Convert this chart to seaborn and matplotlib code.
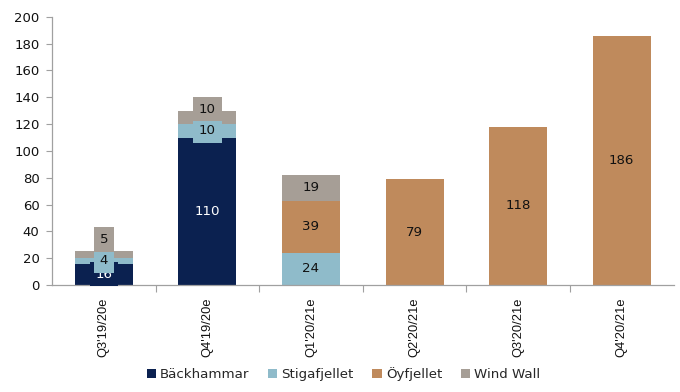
import matplotlib
matplotlib.use("Agg")
import matplotlib.pyplot as plt
import seaborn as sns
import numpy as np
import pandas as pd

quarters = ["Q3'19/20e", "Q4'19/20e", "Q1'20/21e", "Q2'20/21e", "Q3'20/21e", "Q4'20/21e"]
series_names = ["Bäckhammar", "Stigafjellet", "Öyfjellet", "Wind Wall"]
backhammar = [16, 110, 0, 0, 0, 0]
stigafjellet = [4, 10, 24, 0, 0, 0]
oyfjellet = [0, 0, 39, 79, 118, 186]
wind_wall = [5, 10, 19, 0, 0, 0]
y_ticks = [0, 20, 40, 60, 80, 100, 120, 140, 160, 180, 200]

colors = ["#0B2150", "#8FBBCA", "#BF8A5C", "#A69E96"]
text_colors = ["white", "#111111", "#111111", "#111111"]

sns.set_theme(style="white")
plt.rcParams["font.family"] = ["DejaVu Sans"]

fig = plt.figure(figsize=(6.8, 3.92), dpi=100)
ax = fig.add_axes([0.0765, 0.273, 0.914, 0.684])

values = [backhammar, stigafjellet, oyfjellet, wind_wall]
bottom = np.zeros(len(quarters))
label_pos = [[] for _ in quarters]
for name, vals, col, tcol in zip(series_names, values, colors, text_colors):
    vals = np.array(vals, dtype=float)
    df = pd.DataFrame({"quarter": quarters, "value": vals})
    sns.barplot(data=df, x="quarter", y="value", bottom=bottom, color=col,
                width=0.56, saturation=1, ax=ax, label=name, linewidth=0)
    for i, v in enumerate(vals):
        if v > 0:
            label_pos[i].append([bottom[i] + v / 2, int(v), col, tcol])
    bottom = bottom + vals

# the top label of a crowded stack is lifted above the one beneath it
for i, labels in enumerate(label_pos):
    if len(labels) > 1:
        top, below = labels[-1], labels[-2]
        if top[0] - below[0] < 12:
            top[0] = below[0] + 16
    for y, v, col, tcol in labels:
        ax.text(i, y, str(v), ha="center", va="center", fontsize=9.6, color=tcol,
                bbox=dict(boxstyle="square,pad=0.42", facecolor=col, edgecolor="none"))

ax.set_ylim(0, 200)
ax.set_xlim(-0.5, len(quarters) - 0.5)
ax.set_yticks(y_ticks)
ax.set_yticklabels([str(t) for t in y_ticks], fontsize=9.5, color="#111111")
ax.set_xlabel("")
ax.set_ylabel("")
ax.set_xticks(range(len(quarters)))
ax.set_xticklabels(quarters, rotation=90, fontsize=9.3, color="#111111",
                   family=["Liberation Sans", "DejaVu Sans"])
ax.set_xticks(np.arange(0.5, len(quarters) - 0.5, 1), minor=True)
ax.tick_params(axis="x", which="major", length=0, pad=9)
ax.tick_params(axis="x", which="minor", length=5, color="#A0A0A0", width=0.8, bottom=True)
ax.tick_params(axis="y", which="major", length=4, color="#A0A0A0", width=0.8, left=True, pad=5)

for side in ["top", "right"]:
    ax.spines[side].set_visible(False)
for side in ["left", "bottom"]:
    ax.spines[side].set_color("#A0A0A0")
    ax.spines[side].set_linewidth(0.9)

handles, labels = ax.get_legend_handles_labels()
if ax.get_legend() is not None:
    ax.get_legend().remove()
fig.legend(handles, labels, loc="center", bbox_to_anchor=(0.505, 0.045), ncol=4,
           frameon=False, fontsize=9.6, handlelength=0.7, handleheight=0.7,
           handletextpad=0.3, columnspacing=1.4)

fig.savefig("out.png", dpi=100)
